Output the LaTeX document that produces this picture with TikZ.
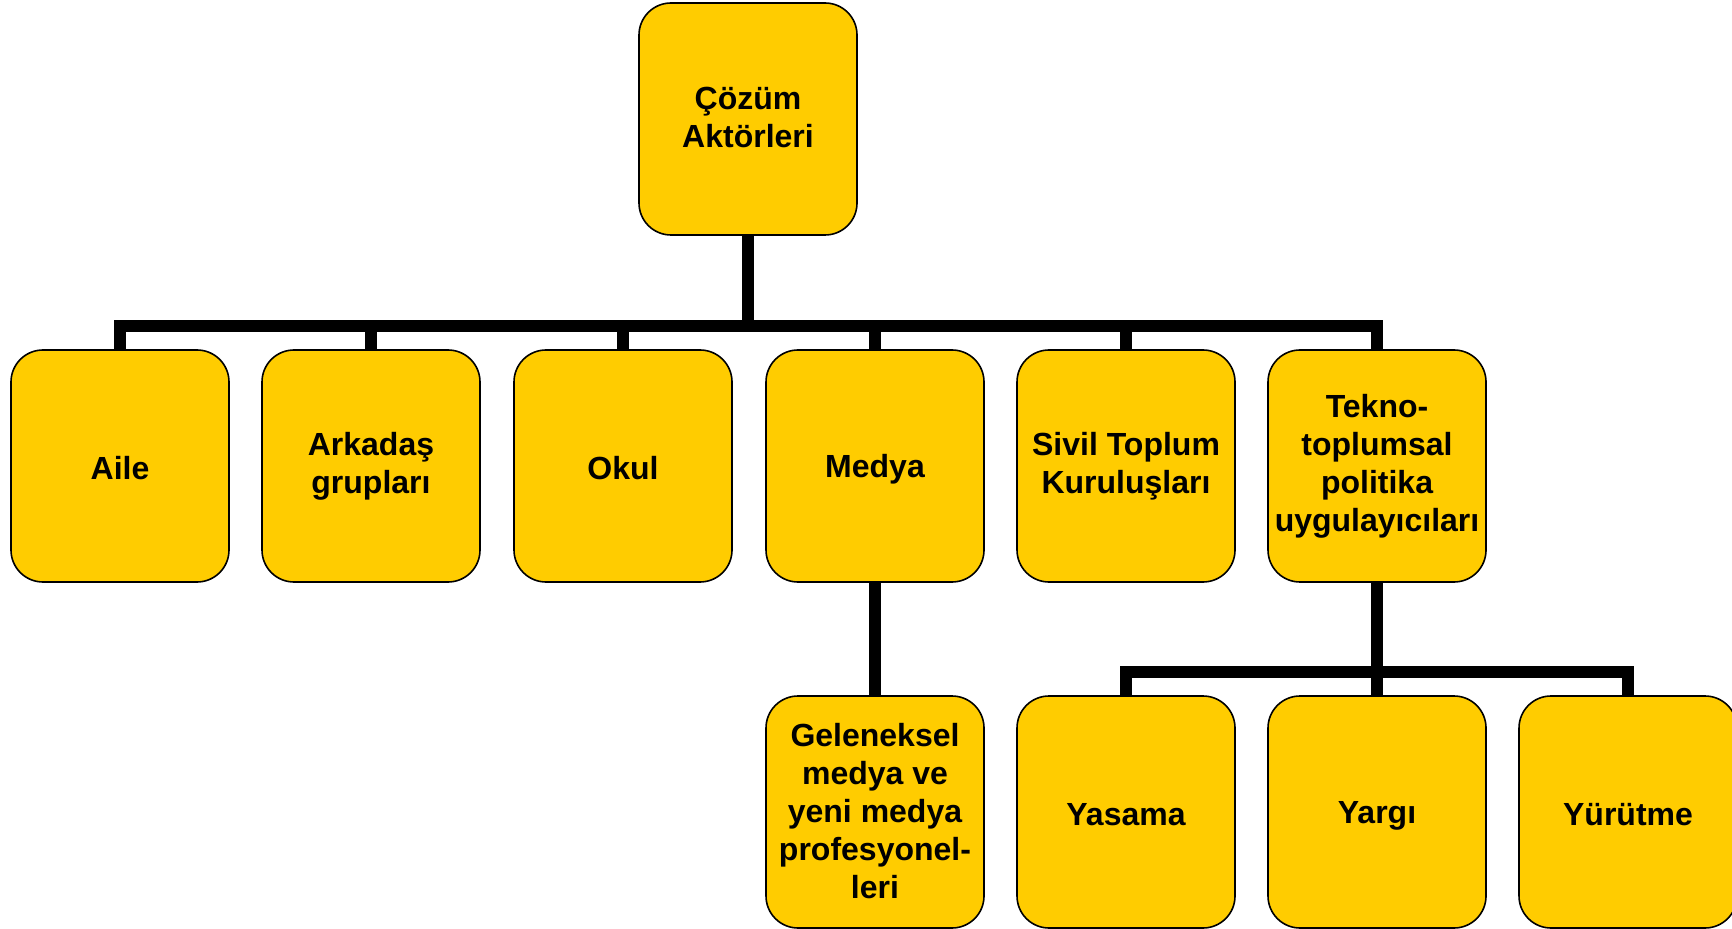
\documentclass[tikz,border=0pt]{standalone}
\usepackage{fontspec}
\setmainfont{Liberation Sans}
\definecolor{boxyellow}{HTML}{FFCC00}
\newcommand{\actorstrut}{\rule[-1.5pt]{0pt}{16.5pt}}
\begin{document}
\begin{tikzpicture}[x=0.5pt,y=-0.5pt,
  actor/.style={draw=black, line width=0.8pt, fill=boxyellow, rounded corners=16pt,
    minimum width=109pt, minimum height=116pt, inner sep=0pt, align=center,
    font=\fontsize{16}{19}\selectfont\bfseries,
    execute at begin node=\actorstrut, execute at end node=\actorstrut},
  topstrut/.style={execute at begin node={\rule{0pt}{#1}}},
  link/.style={line width=6pt, line join=miter}]
\useasboundingbox (0,0) rectangle (1732,929);
\node[actor, topstrut=19.5pt] (root) at (748,119) {Çözüm\\Aktörleri};
\node[actor] (aile) at (120,466) {Aile};
\node[actor, topstrut=19.5pt] (ark) at (371,466) {Arkadaş\\grupları};
\node[actor] (okul) at (623,466) {Okul};
\node[actor] (medya) at (875,466) {Medya};
\node[actor, topstrut=19.5pt] (stk) at (1126,466) {Sivil Toplum\\Kuruluşları};
\node[actor, topstrut=18.5pt] (tekno) at (1377,466) {Tekno-\\toplumsal\\politika\\uygulayıcıları};
\node[actor, topstrut=17.5pt] (gel) at (875,812) {Geleneksel\\medya ve\\yeni medya\\profesyonel-\\leri};
\node[actor] (yas) at (1126,812) {Yasama};
\node[actor] (yar) at (1377,812) {Yargı};
\node[actor] (yur) at (1628,812) {Yürütme};
\coordinate (bar1) at (0,326);
\coordinate (bar2) at (0,672);
\foreach \c in {aile,ark,okul,medya,stk,tekno}
  \draw[link] (root.south) -- (root.south |- bar1) -| (\c.north);
\draw[link] (medya.south) -- (gel.north);
\foreach \c in {yas,yar,yur}
  \draw[link] (tekno.south) -- (tekno.south |- bar2) -| (\c.north);
\end{tikzpicture}
\end{document}
